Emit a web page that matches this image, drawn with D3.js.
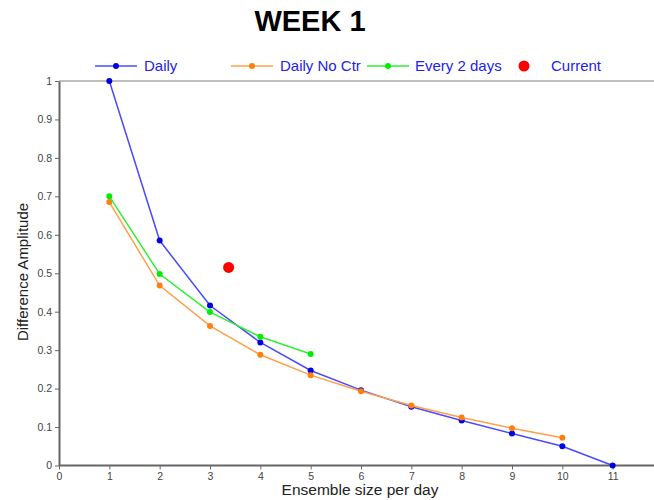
<!DOCTYPE html>
<meta charset="utf-8">
<style>
    body {margin: 0; font-family: "Liberation Sans", Arial, sans-serif;}
</style>
<svg width="654" height="500"></svg>
<script src="https://d3js.org/d3.v7.min.js"></script>
<script>

// values
var ensembleSize = [1, 2, 3, 4, 5, 6, 7, 8, 9, 10, 11];
var daily = [1.0, 0.585, 0.416, 0.32, 0.247, 0.196, 0.153, 0.117, 0.083, 0.05, 0.0];
var dailyNoCtr = [0.685, 0.468, 0.363, 0.288, 0.235, 0.193, 0.156, 0.125, 0.097, 0.072];
var every2days = [0.70, 0.498, 0.399, 0.335, 0.29];
var current = [{x: 3.37, y: 0.515}];
var xTicks = [0, 1, 2, 3, 4, 5, 6, 7, 8, 9, 10, 11];
var yTicks = [0, 0.1, 0.2, 0.3, 0.4, 0.5, 0.6, 0.7, 0.8, 0.9, 1];

var svg = d3.select("svg"),
    width = +svg.attr("width"),
    height = +svg.attr("height");

var x = d3.scaleLinear().domain([0, 12]).range([59, 663]);
var y = d3.scaleLinear().domain([0, 1]).range([465.5, 81]);

var series = [
  {name: "Daily", line: "#4a4aff", dot: "#0000e6", values: daily},
  {name: "Daily No Ctr", line: "#ffa04a", dot: "#ff7f0e", values: dailyNoCtr},
  {name: "Every 2 days", line: "#33ee33", dot: "#00ee00", values: every2days}
];

// title
svg.append("text")
    .attr("x", 310).attr("y", 31)
    .attr("text-anchor", "middle")
    .style("font-size", "29px").style("font-weight", "bold")
    .text("WEEK 1");

// top border
svg.append("line")
    .attr("x1", x(0)).attr("x2", width)
    .attr("y1", y(1)).attr("y2", y(1))
    .style("stroke", "#aaa").style("stroke-width", 1.5);

// axes
var xAxis = svg.append("g")
    .attr("transform", "translate(0," + y(0) + ")")
    .call(d3.axisBottom(x).tickValues(xTicks).tickSize(4).tickSizeOuter(0));
var yAxis = svg.append("g")
    .attr("transform", "translate(" + x(0) + ",0)")
    .call(d3.axisLeft(y).tickValues(yTicks).tickSize(4).tickSizeOuter(0)
        .tickFormat(function(d) { return d === 0 || d === 1 ? d : d3.format(".1f")(d); }));

[xAxis, yAxis].forEach(function(a) {
  a.select(".domain").style("stroke", "#666").style("stroke-width", 2);
  a.selectAll(".tick line").style("stroke", "#666");
  a.selectAll(".tick text").style("fill", "#444").style("font-size", "10.5px")
      .style("font-family", "'Liberation Sans', Arial, sans-serif");
});
xAxis.select(".domain").attr("d", "M" + x(0) + ",0H" + width);

// axis labels
svg.append("text")
    .attr("x", 360).attr("y", 495)
    .attr("text-anchor", "middle")
    .style("font-size", "15.5px").style("fill", "#222")
    .text("Ensemble size per day");
svg.append("text")
    .attr("transform", "translate(28,272) rotate(-90)")
    .attr("text-anchor", "middle")
    .style("font-size", "15px").style("fill", "#222")
    .text("Difference Amplitude");

// lines and points
var line = d3.line()
    .x(function(d, i) { return x(ensembleSize[i]); })
    .y(function(d) { return y(d); });

series.forEach(function(s) {
  svg.append("path")
      .datum(s.values)
      .attr("d", line)
      .style("fill", "none")
      .style("stroke", s.line)
      .style("stroke-width", 1.5);
  svg.append("g").selectAll("circle")
      .data(s.values)
      .enter().append("circle")
      .attr("cx", function(d, i) { return x(ensembleSize[i]); })
      .attr("cy", function(d) { return y(d); })
      .attr("r", 3)
      .style("fill", s.dot);
});

svg.selectAll(".current")
    .data(current)
    .enter().append("circle")
    .attr("class", "current")
    .attr("cx", function(d) { return x(d.x); })
    .attr("cy", function(d) { return y(d.y); })
    .attr("r", 5.5)
    .style("fill", "#ff0000");

// legend
var legendItems = [
  {name: "Daily", x0: 95, tx: 144},
  {name: "Daily No Ctr", x0: 231, tx: 280},
  {name: "Every 2 days", x0: 367, tx: 415},
  {name: "Current", x0: 514, tx: 551}
];
var ly = 66;
legendItems.forEach(function(item, i) {
  var g = svg.append("g");
  if (i < 3) {
    g.append("line")
        .attr("x1", item.x0).attr("x2", item.x0 + 42)
        .attr("y1", ly).attr("y2", ly)
        .style("stroke", series[i].line).style("stroke-width", 1.5);
    g.append("circle")
        .attr("cx", item.x0 + 21).attr("cy", ly).attr("r", 3)
        .style("fill", series[i].dot);
  } else {
    g.append("circle")
        .attr("cx", item.x0 + 10).attr("cy", ly).attr("r", 5.5)
        .style("fill", "#ff0000");
  }
  g.append("text")
      .attr("x", item.tx).attr("y", ly + 5)
      .style("font-size", "15px").style("fill", "#2222ee")
      .text(item.name);
});

</script>
